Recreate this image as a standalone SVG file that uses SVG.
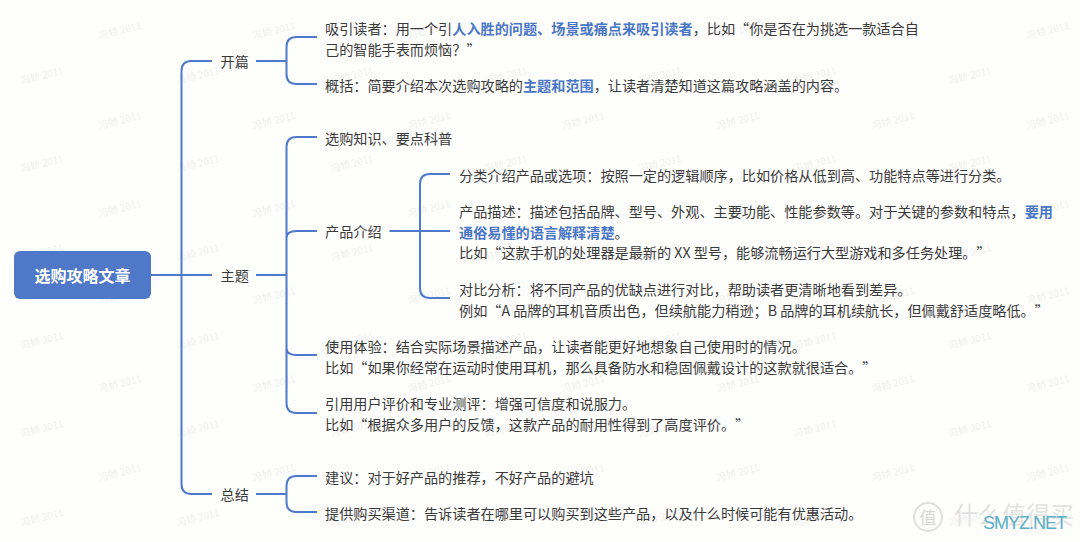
<svg xmlns="http://www.w3.org/2000/svg" width="1080" height="542" viewBox="0 0 1080 542">
<style>
text{font-family:"Noto Sans CJK SC","Noto Sans",sans-serif;text-spacing-trim:space-all;}
.t{font-size:14.15px;fill:#3a3a3a;dominant-baseline:central;}
.b{font-weight:700;fill:#4a76c6;}
.w{font-size:9.8px;fill:#f0f0f0;text-anchor:middle;dominant-baseline:central;}
.c{fill:none;stroke:#4e79cc;stroke-width:2;}
</style>
<rect width="1080" height="542" fill="#fefefd"/>
<g id="watermarks">
<defs><g id="wa"><text class="w" transform="translate(120,0) rotate(-14)">冯娇 2011</text><text class="w" transform="translate(274,0) rotate(-14)">冯娇 2011</text><text class="w" transform="translate(429,0) rotate(-14)">冯娇 2011</text><text class="w" transform="translate(583,0) rotate(-14)">冯娇 2011</text><text class="w" transform="translate(738,0) rotate(-14)">冯娇 2011</text><text class="w" transform="translate(893,0) rotate(-14)">冯娇 2011</text><text class="w" transform="translate(1048,0) rotate(-14)">冯娇 2011</text></g>
<g id="wb"><text class="w" transform="translate(42,0) rotate(-14)">冯娇 2011</text><text class="w" transform="translate(198,0) rotate(-14)">冯娇 2011</text><text class="w" transform="translate(352,0) rotate(-14)">冯娇 2011</text><text class="w" transform="translate(506,0) rotate(-14)">冯娇 2011</text><text class="w" transform="translate(660,0) rotate(-14)">冯娇 2011</text><text class="w" transform="translate(815,0) rotate(-14)">冯娇 2011</text><text class="w" transform="translate(970,0) rotate(-14)">冯娇 2011</text></g></defs>
<use href="#wa" y="30"/><use href="#wb" y="75"/><use href="#wa" y="120"/><use href="#wb" y="163"/><use href="#wa" y="208"/><use href="#wb" y="252"/><use href="#wa" y="295"/><use href="#wb" y="340"/><use href="#wa" y="383"/><use href="#wb" y="428"/><use href="#wa" y="472"/><use href="#wb" y="517"/>
</g>
<g id="corner-mark">
<circle cx="928" cy="517" r="14" fill="none" stroke="#e0e0e0" stroke-width="2"/>
<text x="928" y="516" font-size="17" fill="#d6d6d6" text-anchor="middle" dominant-baseline="central">值</text>
<text x="954" y="513" font-size="24" fill="#e2e2e2" dominant-baseline="central">什么值得买</text>
<text x="983" y="523" font-size="18" fill="#5ab0c8" style="font-family:'Liberation Sans',sans-serif" dominant-baseline="central" textLength="84">SMYZ.NET</text>
</g>
<g id="connectors">
<path class="c" d="M151 275H212M212 61H191.500Q181.500 61 181.500 71V484Q181.500 494 191.500 494H212"/>
<path class="c" d="M256 61H286.500M317 37H296.500Q286.500 37 286.500 47V74Q286.500 84 296.500 84H317"/>
<path class="c" d="M256 275H286.500M317 137H296.500Q286.500 137 286.500 147V403Q286.500 413 296.500 413H317M317 231H296.500Q286.500 231 286.500 238M286.500 348Q286.500 355 296.500 355H317"/>
<path class="c" d="M389.500 231H450M450 174H430Q420 174 420 184V288Q420 298 430 298H450"/>
<path class="c" d="M256 494H286.500M317 476H296.500Q286.500 476 286.500 486V502Q286.500 512 296.500 512H317"/>
</g>
<g id="root"><rect x="14" y="251" width="137" height="48" rx="6" fill="#5078c8"/><text x="82.500" y="275" font-size="16" font-weight="700" fill="#fff" text-anchor="middle" dominant-baseline="central">选购攻略文章</text></g>
<g id="n-kaipian"><text class="t" x="220.500" y="61">开篇</text></g>
<g id="n-zhuti"><text class="t" x="220.500" y="275">主题</text></g>
<g id="n-zongjie"><text class="t" x="220.500" y="494">总结</text></g>
<g id="n-xiyin"><text class="t" x="325" y="28">吸引读者：用一个引<tspan class="b">人入胜的问题、场景或痛点来吸引读者</tspan>，比如“你是否在为挑选一款适合自</text><text class="t" x="325" y="48.500">己的智能手表而烦恼？”</text></g>
<g id="n-gaikuo"><text class="t" x="325" y="85">概括：简要介绍本次选购攻略的<tspan class="b">主题和范围</tspan>，让读者清楚知道这篇攻略涵盖的内容。</text></g>
<g id="n-zhishi"><text class="t" x="325" y="137.500">选购知识、要点科普</text></g>
<g id="n-chanpin"><text class="t" x="325" y="231">产品介绍</text></g>
<g id="n-fenlei"><text class="t" x="459" y="174.500">分类介绍产品或选项：按照一定的逻辑顺序，比如价格从低到高、功能特点等进行分类。</text></g>
<g id="n-miaoshu"><text class="t" x="459" y="211">产品描述：描述包括品牌、型号、外观、主要功能、性能参数等。对于关键的参数和特点，<tspan class="b">要用</tspan></text><text class="t" x="459" y="231.500"><tspan class="b">通俗易懂的语言解释清楚</tspan>。</text><text class="t" x="459" y="252">比如“这款手机的处理器是最新的 XX 型号，能够流畅运行大型游戏和多任务处理。”</text></g>
<g id="n-duibi"><text class="t" x="459" y="289">对比分析：将不同产品的优缺点进行对比，帮助读者更清晰地看到差异。</text><text class="t" x="459" y="309.500">例如“A 品牌的耳机音质出色，但续航能力稍逊；B 品牌的耳机续航长，但佩戴舒适度略低。”</text></g>
<g id="n-tiyan"><text class="t" x="325" y="346">使用体验：结合实际场景描述产品，让读者能更好地想象自己使用时的情况。</text><text class="t" x="325" y="366.500">比如“如果你经常在运动时使用耳机，那么具备防水和稳固佩戴设计的这款就很适合。”</text></g>
<g id="n-pingjia"><text class="t" x="325" y="403">引用用户评价和专业测评：增强可信度和说服力。</text><text class="t" x="325" y="423.500">比如“根据众多用户的反馈，这款产品的耐用性得到了高度评价。”</text></g>
<g id="n-jianyi"><text class="t" x="325" y="476.500">建议：对于好产品的推荐，不好产品的避坑</text></g>
<g id="n-qudao"><text class="t" x="325" y="513">提供购买渠道：告诉读者在哪里可以购买到这些产品，以及什么时候可能有优惠活动。</text></g>
</svg>
